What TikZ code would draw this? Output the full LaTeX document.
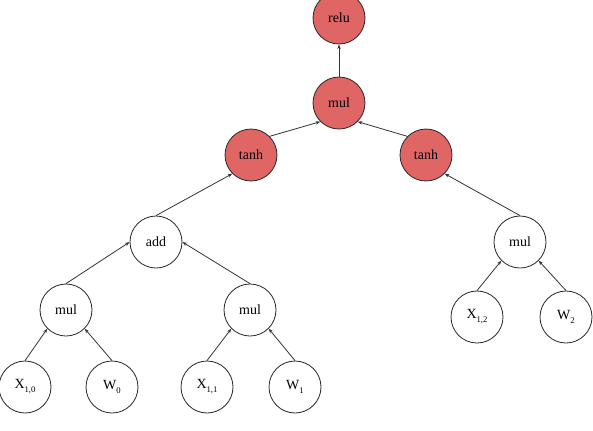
\documentclass[tikz,border=0pt]{standalone}
\usepackage{fontspec}
\setmainfont{Liberation Serif}
\usetikzlibrary{arrows.meta}
\definecolor{opred}{HTML}{E06666}
\newcommand{\sbs}[1]{\raisebox{-0.6ex}{\fontsize{6.5}{7}\selectfont #1}}
\tikzset{
  op/.style={circle, draw=black!85, line width=0.6pt, minimum size=39pt, inner sep=0pt, font=\fontsize{10.5}{12}\selectfont},
  hot/.style={op, fill=opred},
  cold/.style={op, fill=white},
  edge/.style={draw=black!80, line width=0.6pt, -{Stealth[length=3.5pt,width=2.6pt]}}
}
\begin{document}
\begin{tikzpicture}[x=0.75pt,y=-0.75pt]
\useasboundingbox (0,0) rectangle (593,430);
\node[hot]  (relu) at (339,18)  {relu};
\node[hot]  (mt)   at (339,103) {mul};
\node[hot]  (tl)   at (251,155) {tanh};
\node[hot]  (tr)   at (426,155) {tanh};
\node[cold] (add)  at (156,242) {add};
\node[cold] (mr)   at (520,242) {mul};
\node[cold] (ml)   at (66,310)  {mul};
\node[cold] (mm)   at (250,310) {mul};
\node[cold] (x12)  at (477,317) {X\sbs{1,2}};
\node[cold] (w2)   at (566,317) {W\sbs{2}};
\node[cold] (x10)  at (25,387)  {X\sbs{1,0}};
\node[cold] (w0)   at (112,387) {W\sbs{0}};
\node[cold] (x11)  at (207,387) {X\sbs{1,1}};
\node[cold] (w1)   at (295,387) {W\sbs{1}};
\draw[edge] (mt.north) -- (relu.south);
\draw[edge] (tl.45) -- (mt.225);
\draw[edge] (tr.135) -- (mt.-45);
\draw[edge] (add.north) -- (tl.225);
\draw[edge] (mr.north) -- (tr.-45);
\draw[edge] (ml.north) -- (add.west);
\draw[edge] (mm.north) -- (add.east);
\draw[edge] (x10.north) -- (ml.-135);
\draw[edge] (w0.north) -- (ml.-45);
\draw[edge] (x11.north) -- (mm.-135);
\draw[edge] (w1.north) -- (mm.-45);
\draw[edge] (x12.north) -- (mr.-135);
\draw[edge] (w2.north) -- (mr.-45);
\end{tikzpicture}
\end{document}
